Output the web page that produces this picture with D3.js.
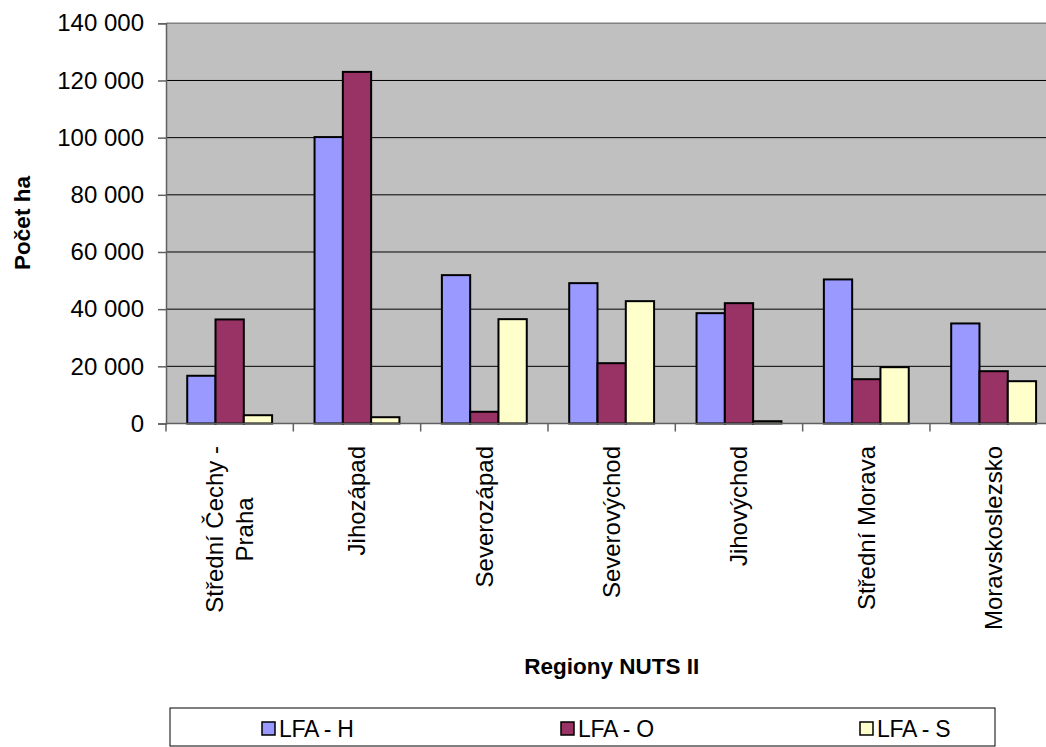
<!DOCTYPE html>
<html><head><meta charset="utf-8">
<script src="https://cdn.jsdelivr.net/npm/d3@7"></script>
<style>body{margin:0;background:#fff;} svg{display:block;font-family:Arial,"Liberation Sans",sans-serif;}</style>
</head><body>
<svg id="c" width="1046" height="747"></svg>
<script>
const categories = [["Střední Čechy -","Praha"],["Jihozápad"],["Severozápad"],["Severovýchod"],["Jihovýchod"],["Střední Morava"],["Moravskoslezsko"]];
const seriesNames = ["LFA - H","LFA - O","LFA - S"];
const lfaH = [16700, 100200, 51900, 49100, 38600, 50400, 35000];
const lfaO = [36400, 123000, 4100, 21100, 42100, 15500, 18300];
const lfaS = [2900, 2200, 36500, 42800, 800, 19700, 14800];
const yTicks = [0,20000,40000,60000,80000,100000,120000,140000];
const colors = ["#9999FF","#993366","#FFFFCC"];
const seriesVals = [lfaH, lfaO, lfaS];

const svg = d3.select("#c");
const L = 166, R = 1057.3, T = 23.3, B = 423.5;
const catKeys = categories.map(c => c.join(" "));
const x = d3.scaleBand().domain(catKeys).range([L, R]).padding(0);
const xs = d3.scaleBand().domain(seriesNames).range([0, x.bandwidth()]).paddingInner(0).paddingOuter(0.75);
const y = d3.scaleLinear().domain([0, 140000]).range([B, T]);

// plot background
svg.append("rect").attr("x", L).attr("y", T).attr("width", R - L).attr("height", B - T).attr("fill", "#C0C0C0");
// gridlines
svg.append("g").selectAll("line").data(yTicks.filter(d => d > 0 && d < 140000)).join("line")
  .attr("x1", L).attr("x2", R).attr("y1", d => y(d)).attr("y2", d => y(d))
  .attr("stroke", "#000").attr("stroke-width", 1);
// top border
svg.append("line").attr("x1", L).attr("x2", R).attr("y1", T).attr("y2", T).attr("stroke", "#808080").attr("stroke-width", 1.5);

// bars
const groups = svg.append("g").selectAll("g").data(catKeys).join("g")
  .attr("transform", d => `translate(${x(d)},0)`);
groups.selectAll("rect").data((d, i) => seriesNames.map((s, j) => ({s, v: seriesVals[j][i], j}))).join("rect")
  .attr("x", d => xs(d.s)).attr("width", xs.bandwidth())
  .attr("y", d => y(d.v)).attr("height", d => B - y(d.v))
  .attr("fill", d => colors[d.j]).attr("stroke", "#000").attr("stroke-width", 2);

// y axis
const yAxis = d3.axisLeft(y).tickValues(yTicks).tickSize(8).tickPadding(14)
  .tickFormat(d => d3.format(",")(d).replace(/,/g, " "));
const ya = svg.append("g").attr("transform", `translate(${L},0)`).call(yAxis);
ya.select(".domain").attr("stroke", "#606060").attr("stroke-width", 1.5);
ya.selectAll(".tick line").attr("stroke", "#606060").attr("stroke-width", 1.5);
ya.selectAll(".tick text").attr("font-size", 24).attr("fill", "#000").attr("font-family", "Arial, 'Liberation Sans', sans-serif");

// x axis line and ticks at category boundaries
svg.append("line").attr("x1", L).attr("x2", R).attr("y1", B).attr("y2", B).attr("stroke", "#606060").attr("stroke-width", 1.5);
const bounds = catKeys.map(k => x(k)).concat([R]);
svg.append("g").selectAll("line").data(bounds).join("line")
  .attr("x1", d => d).attr("x2", d => d).attr("y1", B).attr("y2", B + 8)
  .attr("stroke", "#606060").attr("stroke-width", 1.5);

// x labels rotated
const lineH = 30, labTop = 446;
categories.forEach((lines, i) => {
  const cx = x(catKeys[i]) + x.bandwidth() / 2;
  const g = svg.append("g").attr("transform", `translate(${cx},${labTop}) rotate(-90)`);
  const t = g.append("text").attr("font-size", 24).attr("fill", "#000");
  const n = lines.length;
  const tsp = lines.map((ln, k) => t.append("tspan").text(ln)
    .attr("y", (k - (n - 1) / 2) * lineH).attr("dy", "0.35em"));
  const maxW = d3.max(tsp, s => s.node().getComputedTextLength());
  tsp.forEach(s => s.attr("x", -maxW / 2).attr("text-anchor", "middle"));
});

// axis titles
svg.append("text").attr("transform", "translate(22,223) rotate(-90)").attr("text-anchor", "middle")
  .attr("dy", "0.35em").attr("font-size", 22.5).attr("font-weight", "bold").text("Počet ha");
svg.append("text").attr("x", (L + R) / 2).attr("y", 666).attr("dy", "0.35em").attr("text-anchor", "middle")
  .attr("font-size", 22.5).attr("font-weight", "bold").text("Regiony NUTS II");

// legend
const lg = svg.append("g");
lg.append("rect").attr("x", 170).attr("y", 708).attr("width", 825).attr("height", 38)
  .attr("fill", "#fff").attr("stroke", "#000").attr("stroke-width", 1);
const lgX = d3.scalePoint().domain(seriesNames).range([262, 860]);
const items = lg.selectAll("g.it").data(seriesNames).join("g").attr("class", "it")
  .attr("transform", d => `translate(${lgX(d)},729)`);
items.append("rect").attr("x", 0).attr("y", -7).attr("width", 13).attr("height", 13)
  .attr("fill", (d, i) => colors[i]).attr("stroke", "#000").attr("stroke-width", 1.5);
items.append("text").attr("x", 17).attr("dy", "0.35em").attr("font-size", 23).attr("letter-spacing", -0.3).text(d => d);
</script>
</body></html>
